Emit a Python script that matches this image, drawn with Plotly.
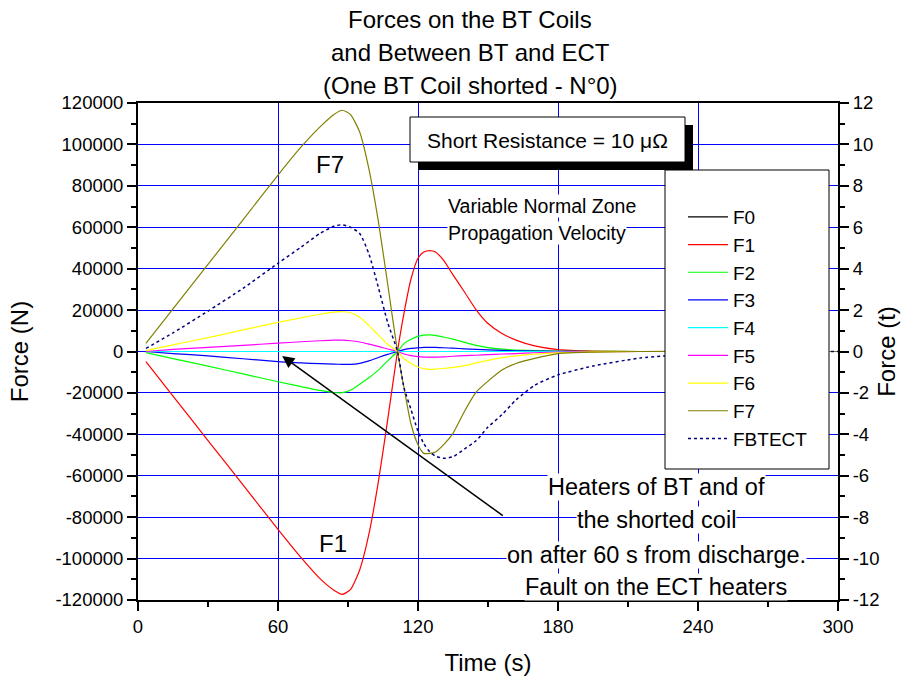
import plotly.graph_objects as go

# Time samples (s)
time_s = [3.4, 15, 30, 45, 60, 70, 78, 84, 87.5, 91, 95, 99, 103, 107, 111.2,
          114, 117, 120, 122.5, 125, 127.5, 131, 135, 140, 145, 150, 156, 162,
          170, 180, 195, 215, 240, 270, 300]

# Forces on the BT coils (N)
f0 = [0] * len(time_s)
f1 = [-4900, -21500, -43000, -64400, -85900, -99700, -109700, -115300, -117300,
      -115000, -105500, -88000, -63000, -33000, 0, 18500, 35000, 45000, 48000,
      48700, 48000, 44000, 37000, 28600, 20000, 13500, 8700, 5500, 2700, 900,
      200, 0, 0, 0, 0]
f2 = [-500, -3400, -7100, -10800, -14600, -17000, -18800, -19800, -19900,
      -18700, -15800, -12700, -9000, -4500, 0, 3800, 5900, 7300, 7900, 8000,
      7800, 7000, 6000, 4400, 3000, 1900, 1100, 700, 400, 200, 50, 0, 0, 0, 0]
f3 = [0, -1000, -2100, -3500, -4900, -5500, -5900, -6100, -6200, -6200, -5700,
      -4500, -2900, -1400, 0, 900, 1500, 1800, 2000, 2000, 1950, 1800, 1600,
      1300, 1000, 750, 550, 350, 200, 100, 0, 0, 0, 0, 0]
f4 = [0] * len(time_s)
f5 = [0, 1000, 2000, 3000, 4000, 4700, 5200, 5500, 5500, 5200, 4600, 3600,
      2500, 1200, 0, -1200, -2000, -2500, -2700, -2700, -2700, -2600, -2300,
      -2000, -1800, -1500, -1200, -1000, -600, -300, -100, 0, 0, 0, 0]
f6 = [400, 3200, 6700, 10400, 14100, 16300, 18000, 19000, 19200, 18700, 16500,
      12500, 8000, 3500, 0, -3500, -5800, -7500, -8300, -8600, -8500, -8200,
      -7700, -6800, -5500, -4300, -3000, -2100, -1300, -700, -200, 0, 0, 0, 0]
f7 = [3950, 20600, 42100, 63600, 85200, 98900, 108500, 114500, 116500, 114500,
      106000, 88000, 63000, 32600, 0, -17500, -35000, -45000, -49200, -49200,
      -48500, -45000, -39500, -28700, -19500, -14300, -8900, -5800, -3300,
      -1000, -300, 0, 0, 0, 0]

# Force between BT and ECT (t)
fbtect = [0.15, 0.90, 1.95, 3.05, 4.26, 5.05, 5.70, 6.05, 6.12, 6.00, 5.70,
          4.70, 3.10, 1.40, 0.0, -1.75, -2.80, -3.85, -4.45, -4.84, -5.05,
          -5.16, -5.08, -4.70, -4.30, -3.65, -3.05, -2.34, -1.63, -1.13,
          -0.70, -0.32, -0.10, 0.0, 0.0]

series_names = ["F0", "F1", "F2", "F3", "F4", "F5", "F6", "F7"]
series_values = [f0, f1, f2, f3, f4, f5, f6, f7]
series_colors = ["#000000", "#FF0000", "#00FF00", "#0000FF", "#00FFFF",
                 "#FF00FF", "#FFFF00", "#808000"]

x_ticks = [0, 60, 120, 180, 240, 300]
y_ticks = list(range(-120000, 120001, 20000))
y_tick_text = [str(v) for v in y_ticks]
y2_ticks = list(range(-12, 13, 2))
y2_tick_text = [str(v) for v in y2_ticks]

title_lines = ["Forces on the BT Coils", "and Between BT and ECT",
               "(One BT Coil shorted - N\u00b00)"]

FONT = "Arial, Liberation Sans, sans-serif"

fig = go.Figure()
for name, vals, col in zip(series_names, series_values, series_colors):
    fig.add_trace(go.Scatter(x=time_s, y=vals, name=name, mode="lines",
                             line=dict(color=col, width=1.2, shape="spline",
                                       smoothing=0.6)))
fig.add_trace(go.Scatter(x=time_s, y=fbtect, name="FBTECT", mode="lines",
                         yaxis="y2",
                         line=dict(color="#000080", width=1.5, dash="dot",
                                   shape="spline", smoothing=0.6)))

# plot-area pixel helpers for decorative boxes
L, R, T, B = 138, 75, 103, 79
PW, PH = 913 - L - R, 679 - T - B


def px(xp):
    return (xp - L) / PW


def py(yp):
    return (T + PH - yp) / PH


shapes = [
    # shadow + frame of the resistance label
    dict(type="rect", xref="paper", yref="paper", x0=px(418), x1=px(693),
         y0=py(170), y1=py(125), fillcolor="black", line=dict(width=0),
         layer="above"),
    dict(type="rect", xref="paper", yref="paper", x0=px(410), x1=px(685),
         y0=py(162), y1=py(117), fillcolor="white",
         line=dict(color="black", width=1), layer="above"),
    # legend frame
    dict(type="rect", xref="paper", yref="paper", x0=px(665), x1=px(829),
         y0=py(469), y1=py(170), fillcolor="white",
         line=dict(color="black", width=1), layer="above"),
]

annotations = []
for txt, ypix in zip(title_lines, [20, 52, 85]):
    annotations.append(dict(text=txt, xref="paper", yref="paper",
                            x=px(470), y=py(ypix), xanchor="center",
                            yanchor="middle", showarrow=False,
                            font=dict(size=24, color="black", family=FONT)))

annotations += [
    dict(text="Short Resistance = 10 \u03bc\u03a9", xref="paper", yref="paper",
         x=px(547.5), y=py(140), xanchor="center", yanchor="middle",
         showarrow=False, font=dict(size=21, color="black", family=FONT)),
    dict(text="Variable Normal Zone", x=132.4, y=70200, xanchor="left",
         showarrow=False, bgcolor="white", borderpad=0,
         font=dict(size=19.5, color="black", family=FONT)),
    dict(text="Propagation Velocity", x=132.4, y=57200, xanchor="left",
         showarrow=False, bgcolor="white", borderpad=0,
         font=dict(size=19.5, color="black", family=FONT)),
    dict(text="F7", x=82.3, y=90500, showarrow=False,
         font=dict(size=24, color="black", family=FONT)),
    dict(text="F1", x=83.6, y=-92500, showarrow=False,
         font=dict(size=24, color="black", family=FONT)),
    dict(text="", x=61.8, y=-2200, ax=157, ay=-79800, axref="x", ayref="y",
         showarrow=True, arrowhead=2, arrowsize=1.6, arrowwidth=1.5,
         arrowcolor="black"),
]

heater_lines = ["Heaters of BT and of", "the shorted coil",
                "on after 60 s from discharge.", "Fault on the ECT heaters"]
heater_y = [-65400, -81400, -98300, -113700]
for txt, yv in zip(heater_lines, heater_y):
    annotations.append(dict(text=txt, x=222, y=yv, showarrow=False,
                            bgcolor="white", borderpad=0,
                            font=dict(size=23.5, color="black", family=FONT)))

axis_common = dict(showline=True, linecolor="black", linewidth=2,
                   ticks="outside", ticklen=9, tickwidth=1.5,
                   tickcolor="black", automargin=False,
                   tickfont=dict(size=18.5, color="black", family=FONT))

fig.update_layout(
    width=913, height=679,
    margin=dict(l=L, r=R, t=T, b=B, autoexpand=False),
    paper_bgcolor="white", plot_bgcolor="white",
    font=dict(family=FONT, color="black"),
    xaxis=dict(range=[0, 300], tickvals=x_ticks, mirror=True,
               showgrid=True, gridcolor="#0000FF", gridwidth=1,
               zeroline=False,
               minor=dict(dtick=30, ticklen=5, tickcolor="black",
                          ticks="outside", showgrid=False),
               title=dict(text="Time (s)", standoff=18,
                          font=dict(size=24, color="black", family=FONT)),
               **axis_common),
    yaxis=dict(range=[-120000, 120000], tickvals=y_ticks,
               ticktext=y_tick_text,
               showgrid=True, gridcolor="#0000FF", gridwidth=1,
               zeroline=False,
               minor=dict(tickvals=list(range(-110000, 120000, 20000)),
                          ticklen=5, tickcolor="black", ticks="outside",
                          showgrid=False),
               title=dict(text="Force (N)", standoff=20,
                          font=dict(size=24, color="black", family=FONT)),
               **axis_common),
    yaxis2=dict(range=[-12, 12], tickvals=y2_ticks, ticktext=y2_tick_text,
                overlaying="y", side="right", showgrid=False, zeroline=False,
                minor=dict(tickvals=list(range(-11, 12, 2)), ticklen=5,
                           tickcolor="black", ticks="outside"),
                title=dict(text="Force (t)", standoff=0,
                           font=dict(size=24, color="black", family=FONT)),
                **axis_common),
    showlegend=True,
    legend=dict(x=px(683), y=py(198), xanchor="left", yanchor="top",
                bgcolor="rgba(0,0,0,0)", borderwidth=0,
                font=dict(size=19, color="black", family=FONT),
                itemwidth=40),
    shapes=shapes,
    annotations=annotations,
)

fig.write_html("out.html")
